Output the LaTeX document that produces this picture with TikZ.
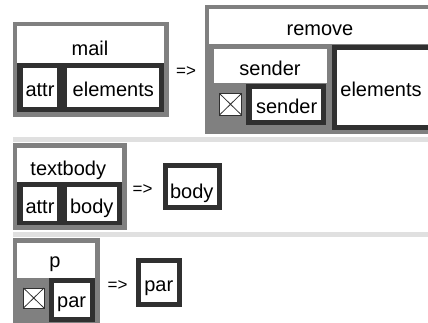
\documentclass[tikz,border=0pt]{standalone}
\usepackage{fontspec}
\setmainfont{Liberation Sans}
\definecolor{cgray}{HTML}{808080}
\definecolor{cdark}{HTML}{303030}
\definecolor{csep}{HTML}{E0E0E0}
\tikzset{
  outerbox/.style={fill=cgray},
  darkarea/.style={fill=cdark},
  whitearea/.style={fill=white},
  sepbar/.style={fill=csep},
  lbl/.style={anchor=base, inner sep=0pt, font=\fontsize{20}{21}\selectfont},
  arrlbl/.style={anchor=base, inner sep=0pt, font=\fontsize{17}{18}\selectfont},
  xbox/.style={draw=cdark, line width=0.8pt, fill=white},
  xline/.style={draw=cdark, line width=0.8pt},
}
\begin{document}
\begin{tikzpicture}[x=1pt,y=-1pt]
\useasboundingbox (0,0) rectangle (428,323);
\clip (0,0) rectangle (428,323);
\fill[white] (0,0) rectangle (428,323);

% ---- mail => remove
\fill[outerbox] (13,22) rectangle (169,117);
\fill[whitearea] (17,26) rectangle (164,63);
\fill[darkarea] (17,63) rectangle (164,112);
\fill[whitearea] (23,68) rectangle (57,107);
\fill[whitearea] (67,68) rectangle (159,107);
\node[lbl] (mailT) at (90,55.7) {mail};
\node[lbl] (mailA) at (40,96.7) {attr};
\node[lbl] (mailE) at (113.3,96.7) {elements};
\node[arrlbl] (arr1) at (186,76.5) {=>};

\fill[outerbox] (205,5) rectangle (440,134);
\fill[whitearea] (209,9) rectangle (440,44);
\fill[whitearea] (214,49) rectangle (327,83);
\draw[xbox] (219.5,93.5) rectangle (241.5,115);
\draw[xline] (219.5,93.5) -- (241.5,115) (241.5,93.5) -- (219.5,115);
\fill[darkarea] (246,84) rectangle (326,125);
\fill[whitearea] (252,89) rectangle (321,120);
\fill[darkarea] (332,45) rectangle (445,130);
\fill[whitearea] (337,50) rectangle (440,125);
\node[lbl] (remT) at (320,36) {remove};
\node[lbl] (sendT) at (270,76) {sender};
\node[lbl] (sendI) at (286.7,113.3) {sender};
\node[lbl] (remE) at (381,96.7) {elements};

% separators
\fill[sepbar] (13,137) rectangle (428,142);
\fill[sepbar] (13,232) rectangle (428,237);

% ---- textbody => body
\fill[outerbox] (13,143) rectangle (127,230);
\fill[whitearea] (17,148) rectangle (122,182);
\fill[darkarea] (17,182) rectangle (122,225);
\fill[whitearea] (23,187) rectangle (57,221);
\fill[whitearea] (67,187) rectangle (117,221);
\node[lbl] (tbT) at (68.3,176) {textbody};
\node[lbl] (tbA) at (40,213.3) {attr};
\node[lbl] (tbB) at (91.7,213.3) {body};
\node[arrlbl] (arr2) at (142.5,194.5) {=>};
\fill[darkarea] (163,163) rectangle (222,210);
\fill[whitearea] (168,168) rectangle (217,205);
\node[lbl] (bodyR) at (191.7,198.3) {body};

% ---- p => par
\fill[outerbox] (13,238) rectangle (100,330);
\fill[whitearea] (17,243) rectangle (95,278);
\draw[xbox] (23.5,288) rectangle (44,308);
\draw[xline] (23.5,288) -- (44,308) (44,288) -- (23.5,308);
\fill[darkarea] (49,278) rectangle (95,322);
\fill[whitearea] (54,283) rectangle (90,317);
\node[lbl] (pT) at (55,267.7) {p};
\node[lbl] (pI) at (71.7,307.3) {par};
\node[arrlbl] (arr3) at (117.5,290.5) {=>};
\fill[darkarea] (136,258) rectangle (182,307);
\fill[whitearea] (141,263) rectangle (177,302);
\node[lbl] (parR) at (158.8,291) {par};
\end{tikzpicture}
\end{document}
